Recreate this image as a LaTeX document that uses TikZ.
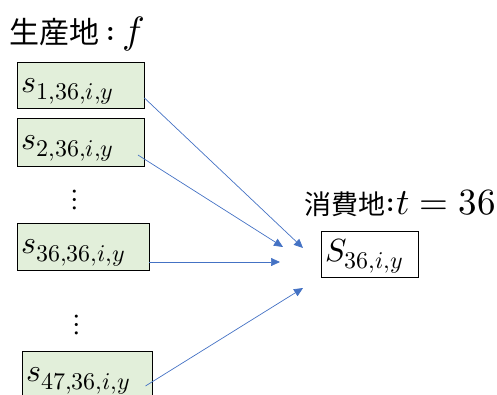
\documentclass[tikz,border=0pt]{standalone}
\usepackage{unicode-math}
\setmathfont{Latin Modern Math}
\DeclareMathSizes{32}{32}{24}{18}
\newfontfamily\cjk{Noto Sans CJK JP}
\usetikzlibrary{arrows.meta}
\definecolor{boxgreen}{HTML}{E2EFDA}
\definecolor{arrowblue}{HTML}{4472C4}
\tikzset{
  boxbase/.style={draw=black, line width=0.9pt, inner xsep=4pt, inner ysep=0pt, align=left,
     text height=24pt, text depth=10pt, font=\fontsize{32}{36}\selectfont},
  srcbox/.style={boxbase, fill=boxgreen},
  dstbox/.style={boxbase, fill=white},
  flow/.style={draw=arrowblue, line width=0.7pt, -{Triangle[length=9pt,width=8pt]}},
  dots/.style={font=\fontsize{30}{34}\selectfont, inner sep=0pt}
}
\begin{document}
\begin{tikzpicture}[x=1pt,y=-1pt]
\useasboundingbox (0,0) rectangle (497,394);
\clip (0,0) rectangle (497,394);
\node[anchor=base west, inner sep=0pt, font=\fontsize{30}{34}\selectfont] (ft) at (9,43)
  {{\cjk 生産地}\fontsize{38}{42}\selectfont$\,{:}\,f$};
\node[srcbox, text width=119pt, minimum height=46pt] (b1) at (81,85) {$s_{1,36,i,y}$};
\node[srcbox, text width=119pt, minimum height=48pt] (b2) at (81,142) {$s_{2,36,i,y}$};
\node[dots] (d1) at (75,200) {$\vdots$};
\node[srcbox, text width=124pt, minimum height=47pt] (b3) at (83,246.5) {$s_{36,36,i,y}$};
\node[dots] (d2) at (77,325) {$\vdots$};
\node[srcbox, text width=122pt, minimum height=47pt] (b4) at (87,374.5) {$s_{47,36,i,y}$};
\node[anchor=base east, inner sep=0pt, font=\fontsize{27}{30}\selectfont] (tt) at (496,214)
  {{\cjk 消費地}\fontsize{37}{40}\selectfont${:}t=36$};
\node[dstbox, text width=89pt, minimum height=46pt] (S) at (369.5,254) {$S_{36,i,y}$};
\coordinate (e1) at (303,248);
\coordinate (e2) at (283,247);
\coordinate (e3) at (280,262);
\coordinate (e4) at (303,288);
\draw[flow] ([shift={(-0.5,13)}]b1.east) -- (e1);
\draw[flow] ([shift={(-7,13)}]b2.east) -- (e2);
\draw[flow] ([shift={(0,15.5)}]b3.east) -- (e3);
\draw[flow] ([shift={(-7,11.5)}]b4.east) -- (e4);
\end{tikzpicture}
\end{document}
